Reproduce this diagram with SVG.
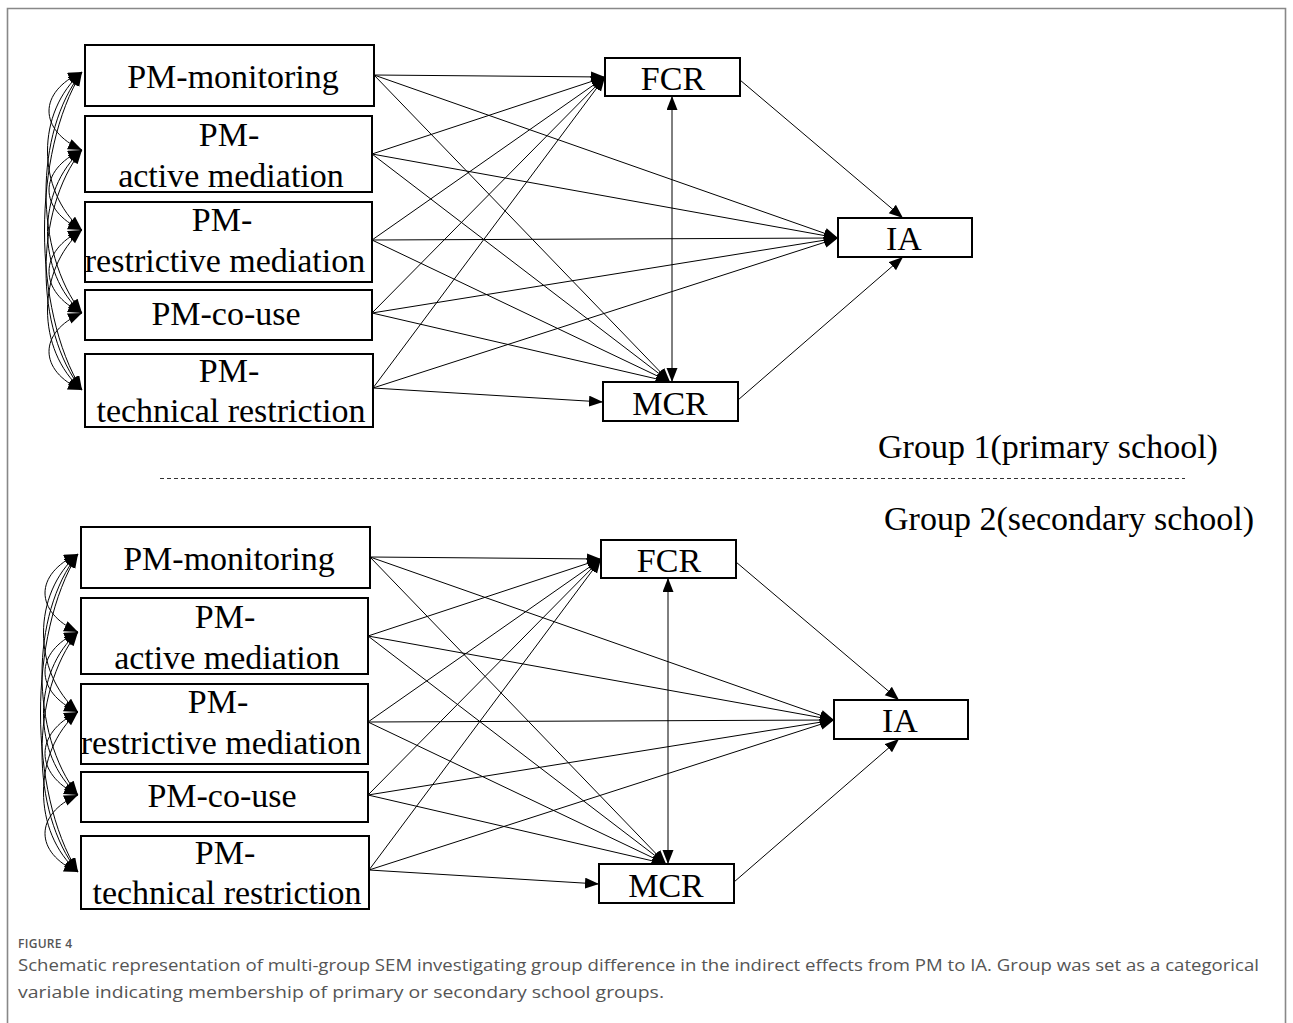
<svg xmlns="http://www.w3.org/2000/svg" width="1293" height="1023" viewBox="0 0 1293 1023">
<style>
.box{fill:#fff;stroke:#000;stroke-width:2}
.t{font-family:"Liberation Serif","Times New Roman",serif;font-size:34px;fill:#000;text-anchor:middle}
.gl{font-family:"Liberation Serif","Times New Roman",serif;font-size:34px;fill:#000}
.ln{fill:none;stroke:#000;stroke-width:1;marker-end:url(#ah)}
.cv{fill:none;stroke:#000;stroke-width:1;marker-end:url(#ah);marker-start:url(#ah)}
.cap{font-family:"Open Sans","Liberation Sans",sans-serif;fill:#555}
</style>
<defs>
<marker id="ah" markerUnits="userSpaceOnUse" markerWidth="15" markerHeight="12" refX="14" refY="5.5" orient="auto-start-reverse">
<path d="M0,0 L14,5.5 L0,11 z" fill="#000"/>
</marker>
<g id="conn">
<!-- covariances -->
<path class="cv" d="M82,72 C38,92 38,130 82,150"/>
<path class="cv" d="M82,72 C36,112 36,190 82,230"/>
<path class="cv" d="M82,72 C34,132 34,253 82,313"/>
<path class="cv" d="M82,72 C32,152 32,310 82,390"/>
<path class="cv" d="M82,150 C38,170 38,210 82,230"/>
<path class="cv" d="M82,150 C36,190 36,273 82,313"/>
<path class="cv" d="M82,150 C34,210 34,330 82,390"/>
<path class="cv" d="M82,230 C38,251 38,292 82,313"/>
<path class="cv" d="M82,230 C36,270 36,350 82,390"/>
<path class="cv" d="M82,313 C38,332 38,371 82,390"/>
<!-- to FCR -->
<path class="ln" d="M374,75 L605,77"/>
<path class="ln" d="M372,154 L605,77"/>
<path class="ln" d="M372,240 L605,77"/>
<path class="ln" d="M372,313 L605,77"/>
<path class="ln" d="M373,388 L605,77"/>
<!-- to IA -->
<path class="ln" d="M374,75 L838,238"/>
<path class="ln" d="M372,154 L838,238"/>
<path class="ln" d="M372,240 L838,238"/>
<path class="ln" d="M372,313 L838,238"/>
<path class="ln" d="M373,388 L838,238"/>
<!-- to MCR -->
<path class="ln" d="M374,75 L670,382"/>
<path class="ln" d="M372,154 L670,382"/>
<path class="ln" d="M372,240 L670,382"/>
<path class="ln" d="M372,313 L670,382"/>
<path class="ln" d="M373,388 L603,402"/>
<!-- mediators -->
<path class="ln" d="M740,80 L903,218"/>
<path class="ln" d="M738,400 L903,257"/>
<path class="cv" d="M672,96 L672,382"/>
</g>
</defs>

<!-- frame -->
<path d="M7.5,1023 L7.5,8.5 L1285.5,8.5 L1285.5,1023" fill="none" stroke="#888" stroke-width="1.6"/>

<!-- Group 1 -->
<g id="group1">
<use href="#conn"/>
<g id="g1-pm-monitoring"><rect class="box" x="85" y="45" width="289" height="61"/><text class="t" x="233" y="88">PM-monitoring</text></g>
<g id="g1-pm-active"><rect class="box" x="85" y="116" width="287" height="76"/><text class="t" x="229" y="146">PM-</text><text class="t" x="231" y="187">active mediation</text></g>
<g id="g1-pm-restrictive"><rect class="box" x="85" y="202" width="287" height="80"/><text class="t" x="222" y="231">PM-</text><text class="t" x="225" y="272">restrictive mediation</text></g>
<g id="g1-pm-couse"><rect class="box" x="85" y="290" width="287" height="50"/><text class="t" x="226" y="325">PM-co-use</text></g>
<g id="g1-pm-technical"><rect class="box" x="85" y="354" width="288" height="73"/><text class="t" x="229" y="382">PM-</text><text class="t" x="231" y="422">technical restriction</text></g>
<g id="g1-fcr"><rect class="box" x="605" y="58" width="135" height="38"/><text class="t" x="673" y="90">FCR</text></g>
<g id="g1-mcr"><rect class="box" x="603" y="382" width="135" height="39"/><text class="t" x="670" y="415">MCR</text></g>
<g id="g1-ia"><rect class="box" x="838" y="218" width="134" height="39"/><text class="t" x="904" y="250">IA</text></g>
</g>
<text class="gl" x="878" y="458">Group 1(primary school)</text>

<line x1="160" y1="478.5" x2="1185" y2="478.5" stroke="#333" stroke-width="1" stroke-dasharray="4 3"/>

<text class="gl" x="884" y="530">Group 2(secondary school)</text>

<!-- Group 2 -->
<g id="group2" transform="translate(-4,482)">
<use href="#conn"/>
<g id="g2-pm-monitoring"><rect class="box" x="85" y="45" width="289" height="61"/><text class="t" x="233" y="88">PM-monitoring</text></g>
<g id="g2-pm-active"><rect class="box" x="85" y="116" width="287" height="76"/><text class="t" x="229" y="146">PM-</text><text class="t" x="231" y="187">active mediation</text></g>
<g id="g2-pm-restrictive"><rect class="box" x="85" y="202" width="287" height="80"/><text class="t" x="222" y="231">PM-</text><text class="t" x="225" y="272">restrictive mediation</text></g>
<g id="g2-pm-couse"><rect class="box" x="85" y="290" width="287" height="50"/><text class="t" x="226" y="325">PM-co-use</text></g>
<g id="g2-pm-technical"><rect class="box" x="85" y="354" width="288" height="73"/><text class="t" x="229" y="382">PM-</text><text class="t" x="231" y="422">technical restriction</text></g>
<g id="g2-fcr"><rect class="box" x="605" y="58" width="135" height="38"/><text class="t" x="673" y="90">FCR</text></g>
<g id="g2-mcr"><rect class="box" x="603" y="382" width="135" height="39"/><text class="t" x="670" y="415">MCR</text></g>
<g id="g2-ia"><rect class="box" x="838" y="218" width="134" height="39"/><text class="t" x="904" y="250">IA</text></g>
</g>

<!-- caption -->
<text class="cap" x="18" y="948" font-size="12" font-weight="600" letter-spacing="0.3">FIGURE 4</text>
<text class="cap" x="18" y="971" font-size="17" textLength="1241" lengthAdjust="spacingAndGlyphs">Schematic representation of multi-group SEM investigating group difference in the indirect effects from PM to IA. Group was set as a categorical</text>
<text class="cap" x="18" y="998" font-size="17" textLength="646" lengthAdjust="spacingAndGlyphs">variable indicating membership of primary or secondary school groups.</text>
</svg>
